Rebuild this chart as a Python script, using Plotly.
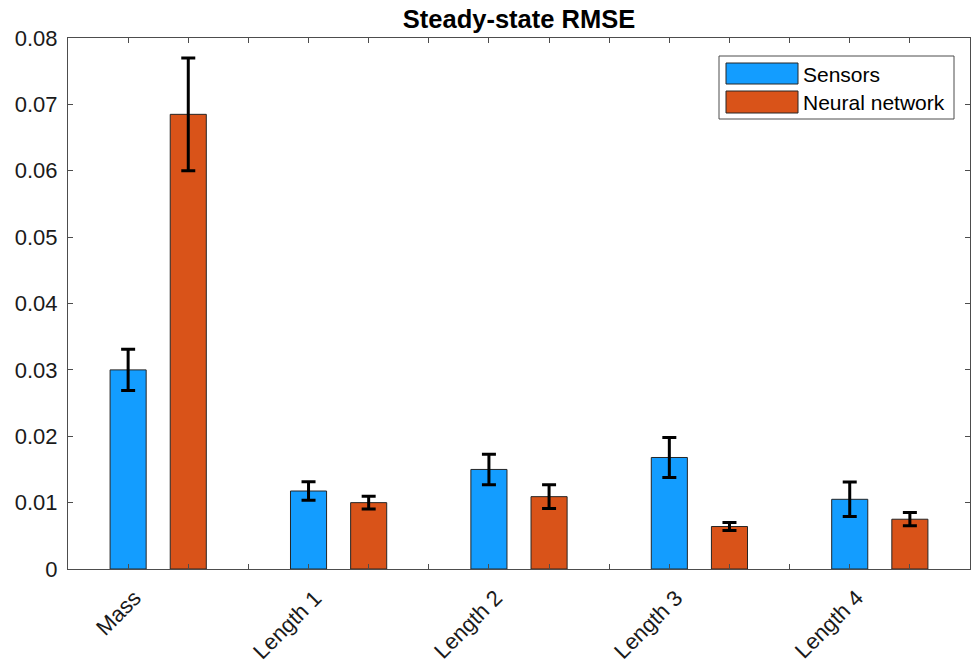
import plotly.graph_objects as go

categories = ["Mass", "Length 1", "Length 2", "Length 3", "Length 4"]
sensors_mean = [0.0300, 0.01175, 0.0150, 0.0168, 0.0105]
sensors_err = [0.0031, 0.0014, 0.0023, 0.0030, 0.0026]
nn_mean = [0.0685, 0.0100, 0.0109, 0.0064, 0.0075]
nn_err = [0.0085, 0.00095, 0.0018, 0.0006, 0.0010]
y_ticks = [0, 0.01, 0.02, 0.03, 0.04, 0.05, 0.06, 0.07, 0.08]
y_tick_labels = ["0", "0.01", "0.02", "0.03", "0.04", "0.05", "0.06", "0.07", "0.08"]

BLUE = "#139dff"
ORANGE = "#d95319"
AXIS = "#4d4d4d"
FONT = "Liberation Sans, Arial, Helvetica, sans-serif"

n = len(categories)
x_sens = [3 * i + 1 for i in range(n)]
x_nn = [3 * i + 2 for i in range(n)]
tickvals = list(range(1, 3 * n))

fig = go.Figure()
for xs, ys, es, col, name in [(x_sens, sensors_mean, sensors_err, BLUE, "Sensors"),
                              (x_nn, nn_mean, nn_err, ORANGE, "Neural network")]:
    fig.add_trace(go.Bar(
        x=xs, y=ys, width=0.6, name=name,
        marker=dict(color=col, line=dict(color="#262626", width=1)),
        error_y=dict(type="data", array=es, visible=True, color="black", thickness=3, width=7),
        showlegend=False,
    ))

# plot area in pixels: x 68..970, y 38..569
L, R, T, B = 68, 970, 38, 569
def px(xp):
    return (xp - L) / (R - L)
def py(yp):
    return (B - yp) / (B - T)

shapes = [
    dict(type="rect", xref="paper", yref="paper", x0=px(719), x1=px(954), y0=py(119), y1=py(56),
         line=dict(color=AXIS, width=1), fillcolor="white", layer="above"),
    dict(type="rect", xref="paper", yref="paper", x0=px(726), x1=px(798), y0=py(84), y1=py(63),
         line=dict(color="#262626", width=1), fillcolor=BLUE, layer="above"),
    dict(type="rect", xref="paper", yref="paper", x0=px(726), x1=px(798), y0=py(113), y1=py(91),
         line=dict(color="#262626", width=1), fillcolor=ORANGE, layer="above"),
]
annotations = [
    dict(xref="paper", yref="paper", x=px(801), y=py(74), text="Sensors", showarrow=False,
         xanchor="left", yanchor="middle", font=dict(size=21, color="black", family=FONT)),
    dict(xref="paper", yref="paper", x=px(801), y=py(102), text="Neural network", showarrow=False,
         xanchor="left", yanchor="middle", font=dict(size=21, color="black", family=FONT)),
]
# category labels (rotated) at the Sensors bar positions
for xv, cat in zip(x_sens, categories):
    annotations.append(dict(
        xref="x", yref="paper", x=xv, y=0, text=cat, showarrow=False, textangle=-45,
        xanchor="right", yanchor="top", xshift=21, yshift=-13,
        font=dict(size=22, color="#1a1a1a", family=FONT),
    ))

fig.update_layout(
    width=978, height=664,
    margin=dict(l=L, r=978 - R, t=T, b=664 - B),
    paper_bgcolor="white", plot_bgcolor="white",
    barmode="overlay",
    font=dict(family=FONT, size=22, color="#262626"),
    title=dict(text="<b>Steady-state RMSE</b>", x=(L + R) / 2 / 978, xanchor="center",
               y=1 - 19 / 664, yanchor="middle", font=dict(size=25.5, color="black", family=FONT)),
    xaxis=dict(range=[0, 3 * n], tickmode="array", tickvals=tickvals,
               ticktext=[""] * len(tickvals), automargin=False,
               ticks="inside", ticklen=5, tickcolor=AXIS, showgrid=False,
               zeroline=False, showline=True, linecolor=AXIS, linewidth=1, mirror="ticks"),
    yaxis=dict(range=[0, 0.08], tickmode="array", tickvals=y_ticks, ticktext=y_tick_labels,
               automargin=False,
               ticks="inside", ticklen=5, tickcolor=AXIS, showgrid=False, zeroline=False,
               showline=True, linecolor=AXIS, linewidth=1, mirror="ticks",
               ticklabelstandoff=5,
               tickfont=dict(size=22, color="#1a1a1a")),
    shapes=shapes, annotations=annotations,
)

fig.write_html("out.html")
